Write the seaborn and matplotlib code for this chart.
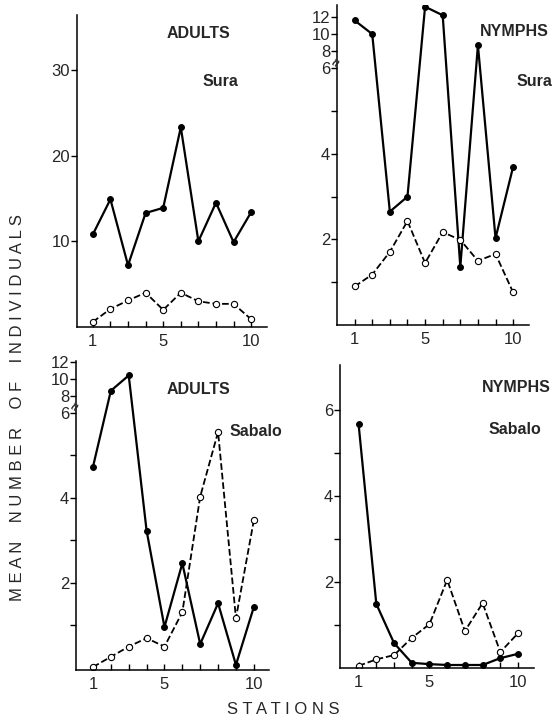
import numpy as np
import pandas as pd
import matplotlib
matplotlib.use("Agg")
import matplotlib.pyplot as plt
import matplotlib.transforms as mtransforms
import seaborn as sns

# stations along the river
stations = [1, 2, 3, 4, 5, 6, 7, 8, 9, 10]

# Sura - adults / nymphs (solid = filled dots, open = dashed open dots)
sura_adults_solid = [10.8, 14.9, 7.2, 13.3, 13.9, 23.3, 10.0, 14.5, 9.9, 13.4]
sura_adults_open = [0.6, 2.1, 3.1, 4.0, 2.0, 4.0, 3.0, 2.7, 2.7, 0.9]
sura_nymphs_solid = [11.6, 10.0, 2.65, 3.0, 13.2, 12.2, 1.36, 8.7, 2.03, 3.7]
sura_nymphs_open = [0.9, 1.18, 1.71, 2.43, 1.45, 2.17, 1.99, 1.5, 1.66, 0.76]

# Sabalo - adults / nymphs
sabalo_adults_solid = [4.73, 8.6, 10.4, 3.23, 0.96, 2.46, 0.56, 1.52, 0.07, 1.43]
sabalo_adults_open = [0.02, 0.26, 0.5, 0.7, 0.5, 1.31, 4.03, 5.55, 1.17, 3.47]
sabalo_nymphs_solid = [5.67, 1.49, 0.58, 0.12, 0.09, 0.07, 0.07, 0.07, 0.23, 0.33]
sabalo_nymphs_open = [0.05, 0.2, 0.3, 0.7, 1.02, 2.05, 0.86, 1.51, 0.37, 0.81]

xtick_labels = ["1", "", "", "", "5", "", "", "", "", "10"]
broken_ticks = [1, 2, 3, 4, 5, 6, 8, 10, 12]
broken_labels = ["", "2", "", "4", "", "6", "8", "10", "12"]


# compress everything above 6 (broken axis)
def fwd(v):
    v = np.asarray(v, dtype=float)
    return np.where(v <= 6, v, 6 + (v - 6) * 0.2)


def inv(v):
    v = np.asarray(v, dtype=float)
    return np.where(v <= 6, v, 6 + (v - 6) / 0.2)


sns.set_style("ticks")
plt.rcParams["font.family"] = ["Liberation Sans", "DejaVu Sans"]

W, H = 556, 719
fig = plt.figure(figsize=(W / 100, H / 100), dpi=100)


def px_axes(left, right, top, bottom):
    return fig.add_axes([left / W, 1 - bottom / H, (right - left) / W, (bottom - top) / H])


def draw(ax, solid, hollow):
    df = pd.DataFrame({"station": stations, "solid": solid, "open": hollow})
    sns.lineplot(data=df, x="station", y="solid", ax=ax, color="black",
                 linewidth=1.6, marker="o", markersize=4.2,
                 markerfacecolor="black", markeredgecolor="black")
    sns.lineplot(data=df, x="station", y="open", ax=ax, color="black",
                 linewidth=1.3, linestyle="--", dashes=(3, 2), marker="o",
                 markersize=4.5, markerfacecolor="white",
                 markeredgecolor="black", markeredgewidth=0.8)
    ax.set_xticks(stations)
    ax.set_xticklabels(xtick_labels)
    ax.set_xlabel("")
    ax.set_ylabel("")
    sns.despine(ax=ax)
    for s in ("left", "bottom"):
        ax.spines[s].set_linewidth(1.1)
        ax.spines[s].set_color("black")
    ax.tick_params(axis="x", direction="in", length=4, width=1, labelsize=12,
                   pad=5, color="black")
    ax.tick_params(axis="y", direction="out", length=4, width=1, labelsize=12,
                   pad=1, color="black")


def break_mark(ax):
    tr = mtransforms.blended_transform_factory(ax.transAxes, ax.transData)
    ax.text(0, 6.7, "\u2248", transform=tr, ha="center", va="center",
            fontsize=10, fontweight="bold", rotation=60, clip_on=False)


# top left: adults Sura
ax1 = px_axes(77, 267, 15, 327)
draw(ax1, sura_adults_solid, sura_adults_open)
ax1.set_xlim(0.1, 10.9)
ax1.set_ylim(0, 36.4)
ax1.set_yticks([10, 20, 30])

# top right: nymphs Sura
ax2 = px_axes(337, 529, 5, 325)
draw(ax2, sura_nymphs_solid, sura_nymphs_open)
ax2.set_yscale("function", functions=(fwd, inv))
ax2.set_xlim(0.0, 10.9)
ax2.set_ylim(0, 13.4)
ax2.set_yticks(broken_ticks)
ax2.set_yticklabels(broken_labels)
ax2.minorticks_off()
break_mark(ax2)

# bottom left: adults Sabalo
ax3 = px_axes(76, 269, 361, 670)
draw(ax3, sabalo_adults_solid, sabalo_adults_open)
ax3.set_yscale("function", functions=(fwd, inv))
ax3.set_xlim(0.05, 10.85)
ax3.set_ylim(-0.05, 12.1)
ax3.set_yticks(broken_ticks)
ax3.set_yticklabels(broken_labels)
ax3.minorticks_off()
break_mark(ax3)

# bottom right: nymphs Sabalo
ax4 = px_axes(340, 534, 365, 668)
draw(ax4, sabalo_nymphs_solid, sabalo_nymphs_open)
ax4.set_xlim(-0.05, 10.9)
ax4.set_ylim(0, 7.05)
ax4.set_yticks([1, 2, 3, 4, 5, 6])
ax4.set_yticklabels(["", "2", "", "4", "", "6"])

# panel labels
lab = dict(fontsize=11.5, fontweight="bold", ha="left", va="center")
fig.text(167 / W, 1 - 33 / H, "ADULTS", **lab)
fig.text(203 / W, 1 - 81 / H, "Sura", **lab)
fig.text(480 / W, 1 - 32 / H, "NYMPHS", **lab)
fig.text(517 / W, 1 - 82 / H, "Sura", **lab)
fig.text(167 / W, 1 - 390 / H, "ADULTS", **lab)
fig.text(230 / W, 1 - 432 / H, "Sabalo", **lab)
fig.text(482 / W, 1 - 387 / H, "NYMPHS", **lab)
fig.text(489 / W, 1 - 430 / H, "Sabalo", **lab)

# axis titles
fig.text(18 / W, 1 - 408 / H,
         "M E A N    N U M B E R    O F    I N D I V I D U A L S",
         rotation=90, ha="center", va="center", fontsize=12)
fig.text(283 / W, 1 - 710 / H, "S T A T I O N S",
         ha="center", va="center", fontsize=12)

fig.savefig("out.png", dpi=100)
